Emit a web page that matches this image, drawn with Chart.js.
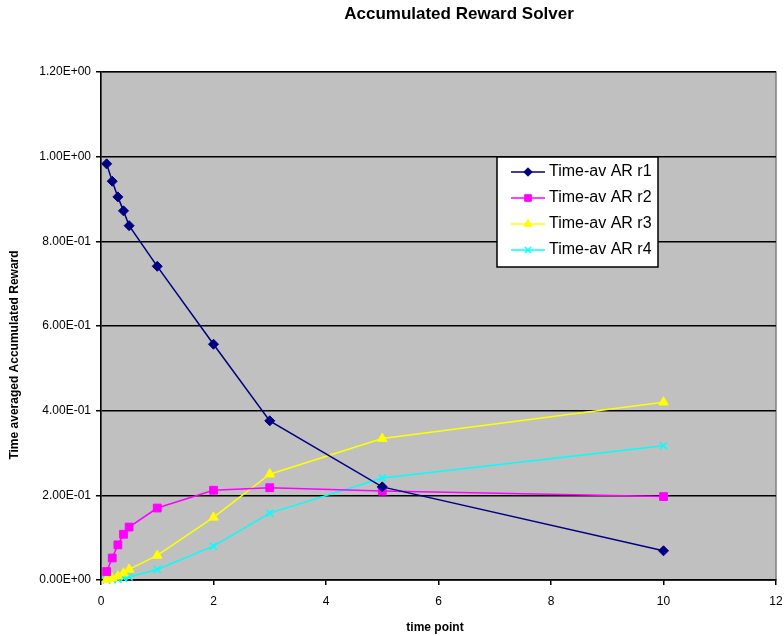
<!DOCTYPE html>
<html>
<head>
<meta charset="utf-8">
<script src="https://cdn.jsdelivr.net/npm/chart.js@4/dist/chart.umd.min.js"></script>
<style>
  html, body { margin: 0; padding: 0; background: #ffffff; }
  #wrap { width: 784px; height: 636px; }
</style>
</head>
<body>
<div id="wrap"><canvas id="c" width="784" height="636"></canvas></div>
<script>
// Time points at which the solver reported results
const timePoints = [0.1, 0.2, 0.3, 0.4, 0.5, 1, 2, 3, 5, 10];

// Time-averaged accumulated reward for each reward structure
const arR1 = [0.983, 0.942, 0.905, 0.872, 0.837, 0.741, 0.557, 0.376, 0.220, 0.069];
const arR2 = [0.020, 0.052, 0.083, 0.108, 0.125, 0.170, 0.212, 0.218, 0.210, 0.197];
const arR3 = [0.001, 0.004, 0.009, 0.016, 0.025, 0.058, 0.148, 0.250, 0.334, 0.420];
const arR4 = [0.0003, 0.001, 0.002, 0.004, 0.007, 0.025, 0.080, 0.158, 0.241, 0.317];

const seriesNames = ['Time-av AR r1', 'Time-av AR r2', 'Time-av AR r3', 'Time-av AR r4'];
const yTickLabels = ['0.00E+00', '2.00E-01', '4.00E-01', '6.00E-01', '8.00E-01', '1.00E+00', '1.20E+00'];
const xTickLabels = ['0', '2', '4', '6', '8', '10', '12'];

const chartTitle = 'Accumulated Reward Solver';
const xTitle = 'time point';
const yTitle = 'Time averaged Accumulated Reward';

const FONT = '"Liberation Sans", Arial, Helvetica, sans-serif';

const styles = [
  { color: '#000080', pointStyle: 'rectRot', radius: 5 },
  { color: '#FF00FF', pointStyle: 'rect', radius: 5.5 },
  { color: '#FFFF00', pointStyle: 'triangle', radius: 5.5 },
  { color: '#00FFFF', pointStyle: 'crossRot', radius: 5 }
];

const allSeries = [arR1, arR2, arR3, arR4];
const datasets = allSeries.map((vals, i) => ({
  label: seriesNames[i],
  data: timePoints.map((t, j) => ({ x: t, y: vals[j] })),
  borderColor: styles[i].color,
  backgroundColor: styles[i].color,
  pointBackgroundColor: styles[i].color,
  pointBorderColor: styles[i].color,
  pointStyle: styles[i].pointStyle,
  pointRadius: styles[i].radius,
  pointHoverRadius: styles[i].radius,
  pointBorderWidth: styles[i].pointStyle === 'crossRot' ? 1.5 : 1,
  borderWidth: 1.5,
  tension: 0,
  showLine: true,
  clip: false
}));

// Grey plot background with a thin grey frame
const plotBackground = {
  id: 'plotBackground',
  beforeDraw(chart) {
    const { ctx, chartArea: a } = chart;
    ctx.save();
    ctx.fillStyle = '#ffffff';
    ctx.fillRect(0, 0, chart.width, chart.height);
    ctx.fillStyle = '#C0C0C0';
    ctx.fillRect(a.left, a.top, a.right - a.left, a.bottom - a.top);
    ctx.strokeStyle = '#808080';
    ctx.lineWidth = 1.5;
    ctx.strokeRect(a.left, a.top, a.right - a.left, a.bottom - a.top);
    ctx.restore();
  }
};

// Chart title and axis titles
const titles = {
  id: 'titles',
  afterDraw(chart) {
    const ctx = chart.ctx;
    ctx.save();
    ctx.fillStyle = '#000000';
    ctx.textAlign = 'center';
    ctx.textBaseline = 'middle';
    ctx.font = 'bold 17px ' + FONT;
    ctx.fillText(chartTitle, 459, 14);
    ctx.font = 'bold 12px ' + FONT;
    ctx.fillText(xTitle, 435, 628);
    ctx.translate(15, 355);
    ctx.rotate(-Math.PI / 2);
    ctx.fillText(yTitle, 0, 0);
    ctx.restore();
  }
};

// Boxed legend inside the plot area
const boxLegend = {
  id: 'boxLegend',
  afterDraw(chart) {
    const ctx = chart.ctx;
    const box = { x: 497, y: 157, w: 161, h: 110 };
    const rows = [172, 198, 224, 250];
    ctx.save();
    ctx.fillStyle = '#ffffff';
    ctx.fillRect(box.x, box.y, box.w, box.h);
    ctx.strokeStyle = '#000000';
    ctx.lineWidth = 1.5;
    ctx.strokeRect(box.x, box.y, box.w, box.h);
    chart.data.datasets.forEach((ds, i) => {
      const y = rows[i];
      ctx.strokeStyle = ds.borderColor;
      ctx.lineWidth = 1.5;
      ctx.beginPath();
      ctx.moveTo(511, y);
      ctx.lineTo(545, y);
      ctx.stroke();
      ctx.fillStyle = ds.pointBackgroundColor;
      ctx.strokeStyle = ds.pointBorderColor;
      ctx.lineWidth = ds.pointBorderWidth;
      Chart.helpers.drawPoint(ctx, {
        pointStyle: ds.pointStyle,
        radius: ds.pointRadius * 0.85,
        rotation: 0,
        borderWidth: ds.pointBorderWidth
      }, 528, y);
      ctx.fillStyle = '#000000';
      ctx.font = '16px ' + FONT;
      ctx.textAlign = 'left';
      ctx.textBaseline = 'middle';
      ctx.fillText(ds.label, 549, y);
    });
    ctx.restore();
  }
};

new Chart(document.getElementById('c'), {
  type: 'line',
  data: { datasets },
  plugins: [plotBackground, titles, boxLegend],
  options: {
    responsive: false,
    animation: false,
    events: [],
    layout: { padding: { top: 72, right: 8, left: 0, bottom: 0 } },
    plugins: {
      legend: { display: false },
      title: { display: false },
      tooltip: { enabled: false }
    },
    scales: {
      x: {
        type: 'linear',
        min: 0,
        max: 12,
        afterFit(scale) {
          scale.height = 56;
          scale.paddingLeft = 0;
          scale.paddingRight = 0;
        },
        afterBuildTicks(scale) {
          scale.ticks = xTickLabels.map(v => ({ value: Number(v) }));
        },
        ticks: {
          callback: (v, i) => xTickLabels[i],
          color: '#000000',
          font: { family: FONT, size: 12 },
          padding: 9,
          maxRotation: 0
        },
        grid: {
          drawOnChartArea: false,
          drawTicks: true,
          tickLength: 5,
          color: '#000000',
          lineWidth: 1.5
        },
        border: { color: '#000000', width: 1.5 }
      },
      y: {
        type: 'linear',
        min: 0,
        max: 1.2,
        afterFit(scale) {
          scale.width = 101;
          scale.paddingTop = 0;
          scale.paddingBottom = 0;
        },
        afterBuildTicks(scale) {
          scale.ticks = yTickLabels.map(s => ({ value: Number(s) }));
        },
        ticks: {
          callback: (v, i) => yTickLabels[i],
          color: '#000000',
          font: { family: FONT, size: 12 },
          padding: 5
        },
        grid: {
          color: '#000000',
          lineWidth: 1.5,
          tickLength: 5
        },
        border: { color: '#000000', width: 1.5 }
      }
    }
  }
});
</script>
</body>
</html>
